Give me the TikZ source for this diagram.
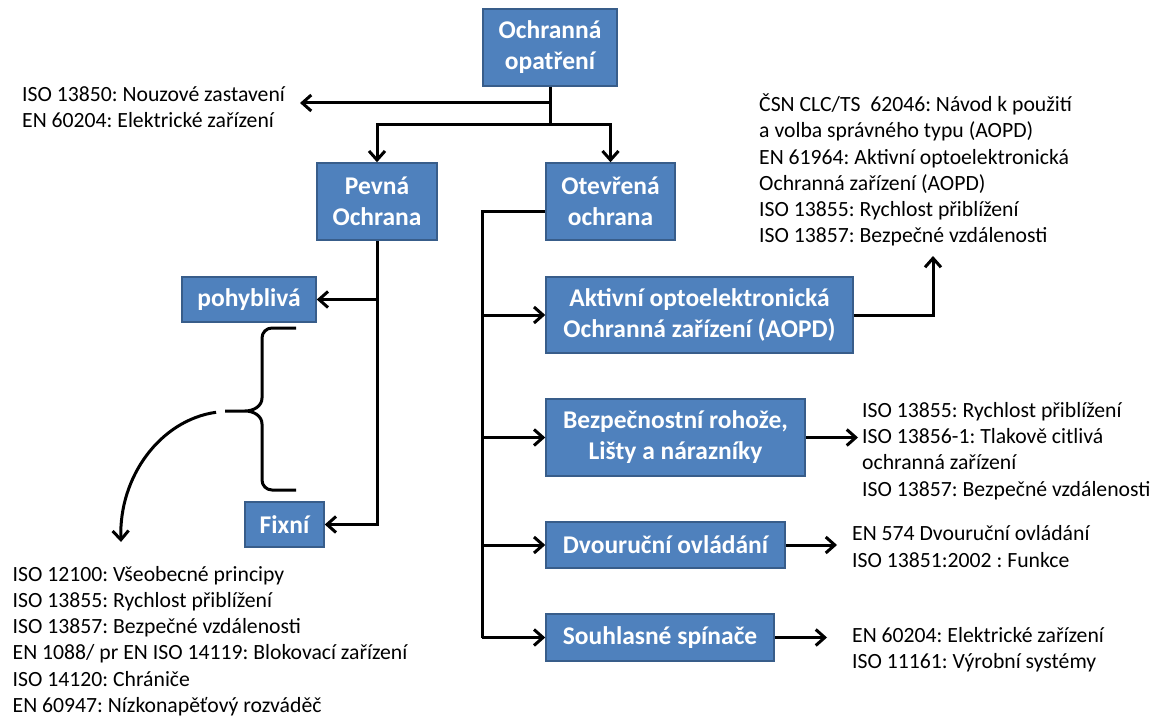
\documentclass[tikz,border=0pt]{standalone}
\usepackage{fontspec}
\setmainfont{Carlito}
\usepackage{xcolor}
\usetikzlibrary{arrows.meta, positioning}
\definecolor{boxblue}{RGB}{79,129,189}
\definecolor{boxedge}{RGB}{56,93,138}
\frenchspacing

\begin{document}
\begin{tikzpicture}[x=1pt, y=-1pt,
    box/.style={draw=boxedge, line width=1.5pt, fill=boxblue, text=white, font=\fontsize{25.5}{31}\selectfont\bfseries, align=center, inner sep=0pt},
    norm/.style={font=\fontsize{21.7}{26.2}\selectfont, align=left, anchor=west, inner sep=0pt},
    link/.style={line width=3pt, black},
    arrow/.style={-{Straight Barb[length=9pt, width=16pt]}, link},
]
\useasboundingbox (0,0) rectangle (1163,717);

% Boxes
\node[box, minimum width=134pt, minimum height=77pt] (top) at (550,47.5) {Ochranná\\opatření};
\node[box, minimum width=120pt, minimum height=77pt] (pevna) at (377,201.5) {Pevná\\Ochrana};
\node[box, minimum width=129pt, minimum height=77pt] (otevrena) at (610.5,201.5) {Otevřená\\ochrana};
\node[box, minimum width=134pt, minimum height=45pt] (pohybliva) at (249,299.5) {pohyblivá};
\node[box, minimum width=79pt, minimum height=45pt] (fixni) at (284.5,524.5) {Fixní};
\node[box, minimum width=307pt, minimum height=76pt] (aopd) at (699.5,315) {Aktivní optoelektronická\\Ochranná zařízení (AOPD)};
\node[box, minimum width=259pt, minimum height=77pt] (rohoze) at (675.5,437.5) {Bezpečnostní rohože,\\Lišty a nárazníky};
\node[box, minimum width=239pt, minimum height=46pt] (dvourucni) at (665.5,545) {Dvouruční ovládání};
\node[box, minimum width=228pt, minimum height=47pt] (spinace) at (660,637.5) {Souhlasné spínače};

% Standards
\node[norm] (nouznorm) at (22,107) {ISO 13850: Nouzové zastavení\\EN 60204: Elektrické zařízení};
\node[norm] (aopdnorm) at (759,170) {ČSN CLC/TS\ \ 62046: Návod k použití\\a volba správného typu (AOPD)\\EN 61964: Aktivní optoelektronická\\Ochranná zařízení (AOPD)\\ISO 13855: Rychlost přiblížení\\ISO 13857: Bezpečné vzdálenosti};
\node[norm] (rohnorm) at (862,451) {ISO 13855: Rychlost přiblížení\\ISO 13856-1: Tlakově citlivá\\ochranná zařízení\\ISO 13857: Bezpečné vzdálenosti};
\node[norm] (dvounorm) at (852,546.5) {EN 574 Dvouruční ovládání\\ISO 13851:2002 : Funkce};
\node[norm] (spinnorm) at (852,650) {EN 60204: Elektrické zařízení\\ISO 11161: Výrobní systémy};
\node[norm] (fixnorm) at (12.5,641) {ISO 12100: Všeobecné principy\\ISO 13855: Rychlost přiblížení\\ISO 13857: Bezpečné vzdálenosti\\EN 1088/ pr EN ISO 14119: Blokovací zařízení\\ISO 14120: Chrániče\\EN 60947: Nízkonapěťový rozváděč};

% Junctions
\coordinate (tap) at (550,103);
\coordinate (nouzend) at (300,103);
\coordinate (split) at (550,124);
\coordinate (trunk) at (482,0);
\coordinate (aopdup) at (933,256);
\coordinate (bracetip) at (225,411);
\coordinate (curveend) at (121,542);

% Top tree
\draw[link] (top.south) -- (split);
\draw[arrow] (tap) -- (nouzend);
\draw[arrow] (split) -| (pevna.north);
\draw[arrow] (split) -| (otevrena.north);

% Fixed guards
\draw[arrow] (pevna.south) |- (fixni.east);
\draw[arrow] (pevna.south |- pohybliva.east) -- (pohybliva.east);
\draw[link] (296,328) -- (272,328) to[out=180, in=90] (262,338) -- (262,398) to[out=-90, in=0] (245,411) -- (bracetip)
    -- (245,411) to[out=0, in=90] (262,424) -- (262,480) to[out=-90, in=180] (272,490) -- (296,490);
\draw[arrow, shorten <=9pt] (bracetip) to[out=188, in=92] (curveend);

% Open guards
\draw[link] ([yshift=-9.5pt]otevrena.west) -| (trunk |- spinace.west);
\foreach \n in {aopd, rohoze, dvourucni, spinace}
    \draw[arrow] (trunk |- \n.west) -- (\n.west);
\draw[arrow] (aopd.east) -| (aopdup);
\draw[arrow, shorten >=4pt] (rohoze.east) -- (rohnorm.west |- rohoze.east);
\draw[arrow, shorten >=15pt] (dvourucni.east) -- (dvounorm.west |- dvourucni.east);
\draw[arrow, shorten >=25pt] (spinace.east) -- (spinnorm.west |- spinace.east);

\end{tikzpicture}
\end{document}
